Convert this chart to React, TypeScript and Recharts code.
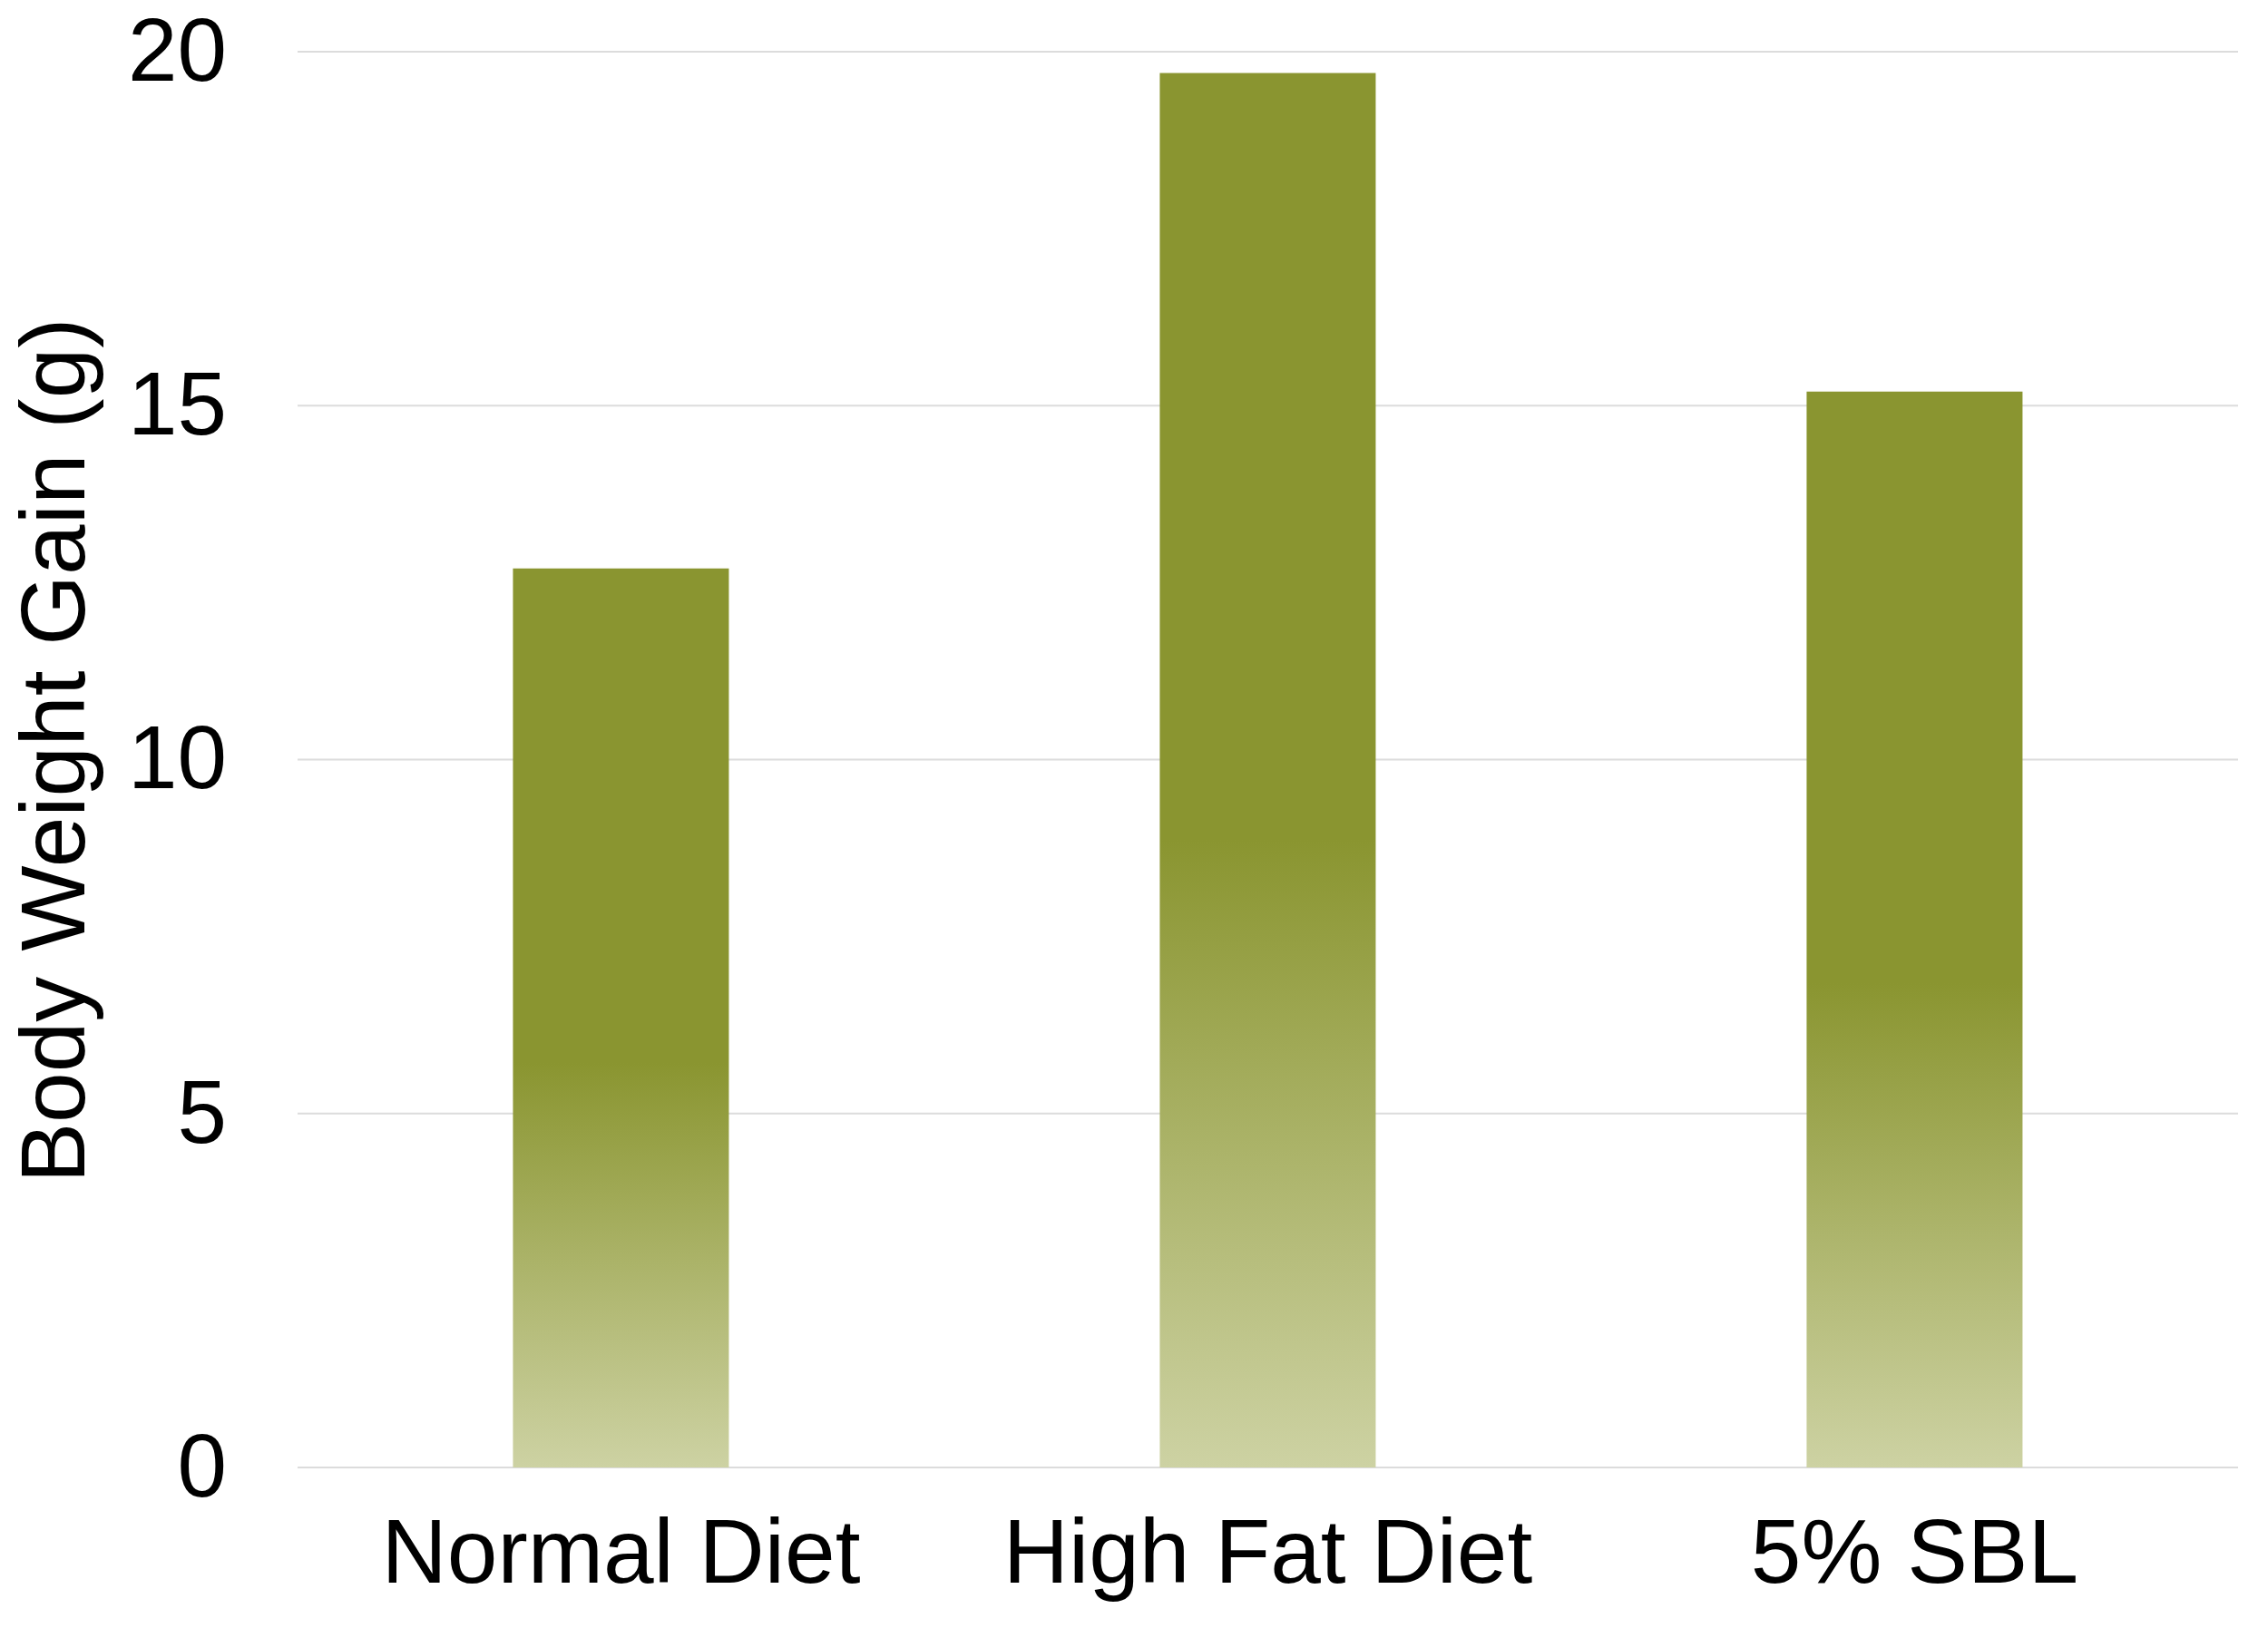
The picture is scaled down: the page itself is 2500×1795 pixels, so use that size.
import { BarChart, Bar, XAxis, YAxis, CartesianGrid, Label } from "recharts";

const groups = ["Normal Diet", "High Fat Diet", "5% SBL"];
const weightGain = [12.7, 19.7, 15.2];
const yTicks = [0, 5, 10, 15, 20];

const data = groups.map((name, i) => ({ name, gain: weightGain[i] }));

const FONT = "'Liberation Sans', Arial, Helvetica, sans-serif";

export default function App() {
  return (
    <div style={{ margin: -8 }}>
      <BarChart
        width={2500}
        height={1787}
        data={data}
        margin={{ top: 57, right: 33, bottom: 29, left: 0 }}
        barCategoryGap="33.3%"
      >
        <defs>
          <linearGradient id="olive" x1="0" y1="0" x2="0" y2="1">
            <stop offset="0" stopColor="#8a9530" />
            <stop offset="0.55" stopColor="#8a9530" />
            <stop offset="1" stopColor="#cdd2a3" />
          </linearGradient>
        </defs>
        <CartesianGrid vertical={false} stroke="#dcdcdc" strokeWidth={2} />
        <XAxis
          dataKey="name"
          height={140}
          axisLine={false}
          tickLine={false}
          tickMargin={50}
          tick={{ fill: "#000", fontSize: 100, fontFamily: FONT }}
        />
        <YAxis
          width={328}
          domain={[0, 20]}
          ticks={yTicks}
          axisLine={false}
          tickLine={false}
          tickMargin={72}
          tick={{ fill: "#000", fontSize: 98, fontFamily: FONT, dy: -3 }}
        >
          <Label
            value="Body Weight Gain (g)"
            angle={-90}
            position="insideLeft"
            offset={57}
            dy={-10}
            style={{ textAnchor: "middle", fill: "#000", fontSize: 100, fontFamily: FONT }}
          />
        </YAxis>
        <Bar dataKey="gain" fill="url(#olive)" isAnimationActive={false} />
      </BarChart>
    </div>
  );
}
